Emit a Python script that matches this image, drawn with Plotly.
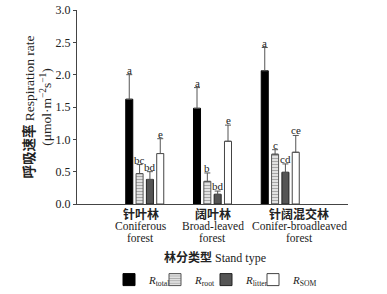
import plotly.graph_objects as go

stand_cn = ["针叶林", "阔叶林", "针阔混交林"]
stand_en1 = ["Coniferous", "Broad-leaved", "Conifer-broadleaved"]
stand_en2 = ["forest", "forest", "forest"]
series_names = ["<i>R</i><sub>total</sub>", "<i>R</i><sub>root</sub>", "<i>R</i><sub>litter</sub>", "<i>R</i><sub>SOM</sub>"]
r_total = [1.62, 1.48, 2.06]
r_root = [0.47, 0.35, 0.77]
r_litter = [0.38, 0.15, 0.49]
r_som = [0.78, 0.97, 0.80]
err_total = [0.38, 0.32, 0.36]
err_root = [0.14, 0.13, 0.07]
err_litter = [0.12, 0.05, 0.13]
err_som = [0.23, 0.25, 0.26]
letters_total = ["a", "a", "a"]
letters_root = ["bc", "b", "c"]
letters_litter = ["bd", "bd", "cd"]
letters_som = ["e", "e", "ce"]
y_ticks = [0, 0.5, 1, 1.5, 2, 2.5, 3]
y_ticktext = ["0.0", "0.5", "1.0", "1.5", "2.0", "2.5", "3.0"]

values = [r_total, r_root, r_litter, r_som]
errors = [err_total, err_root, err_litter, err_som]
letters = [letters_total, letters_root, letters_litter, letters_som]

FONT = "Liberation Serif, Noto Sans CJK SC, serif"
TXT = "#222"
fills = ["#000000", "#d9d9d9", "#555555", "#ffffff"]
lines = ["#000000", "#555555", "#222222", "#444444"]
patterns = ["", "-", "", ""]
legend_ids = ["legend", "legend2", "legend3", "legend4"]
legend_left_px = [109, 155, 206, 253]

BARGAP = 0.39
fig = go.Figure()
xs = list(range(len(stand_cn)))
pitch = (1 - BARGAP) / 4
for j in range(4):
    fig.add_trace(go.Bar(
        x=xs, y=values[j], name=series_names[j], legend=legend_ids[j],
        marker=dict(color=fills[j], line=dict(color=lines[j], width=1),
                    pattern=dict(shape=patterns[j], fgcolor="#666666", bgcolor="#e8e8e8",
                                 size=3, solidity=0.4) if patterns[j] else None),
        error_y=dict(type="data", array=errors[j], arrayminus=[0] * 3, symmetric=False,
                     color="#555555", thickness=1, width=3),
    ))
    for i in xs:
        fig.add_annotation(x=i + (j - 1.5) * pitch, y=values[j][i] + errors[j][i],
                           text=letters[j][i], showarrow=False, yanchor="bottom",
                           yshift=-3, font=dict(family=FONT, size=11, color=TXT))

# category labels (third label sits a little to the right, as in the source)
label_shift = [-4, 0, 19]
for i in xs:
    for txt, dy, sz in [("<b>" + stand_cn[i] + "</b>", -10, 12),
                        (stand_en1[i], -22, 11.5),
                        (stand_en2[i], -33.5, 11.5)]:
        fig.add_annotation(x=i, y=0, yref="paper", yanchor="middle", xanchor="center",
                           xshift=label_shift[i], yshift=dy, text=txt, showarrow=False,
                           font=dict(family=FONT, size=sz, color=TXT))

fig.add_annotation(x=0.51, xref="paper", y=-0.275, yref="paper", yanchor="middle",
                   text="<b>林分类型</b> Stand type", showarrow=False,
                   font=dict(family=FONT, size=12, color=TXT))

legend_common = dict(orientation="h", xref="container", xanchor="left", yref="container",
                     y=0.049, yanchor="middle", font=dict(family=FONT, size=11, color=TXT),
                     itemwidth=30, bgcolor="rgba(0,0,0,0)")
legends = {lid: dict(legend_common, x=px / 387) for lid, px in zip(legend_ids, legend_left_px)}

fig.update_layout(
    width=387, height=294,
    margin=dict(l=77, r=39, t=10, b=90),
    barmode="group", bargap=BARGAP, bargroupgap=0.32,
    paper_bgcolor="white", plot_bgcolor="white",
    font=dict(family=FONT, size=11, color=TXT),
    showlegend=True,
    xaxis=dict(range=[-1, 3], showticklabels=False, automargin=False,
               showline=True, linecolor="#444", linewidth=1, ticks="", showgrid=False,
               zeroline=False),
    yaxis=dict(range=[0, 3], tickvals=y_ticks, ticktext=y_ticktext, automargin=False,
               showline=True, linecolor="#444", linewidth=1, ticks="outside", ticklen=3,
               tickcolor="#444", showgrid=False, zeroline=False,
               tickfont=dict(family=FONT, size=12, color=TXT),
               title=dict(text="<b>呼吸速率</b> Respiration rate<br>(μmol·m<sup>−2</sup>s<sup>−1</sup>)",
                          font=dict(family=FONT, size=13.5, color=TXT), standoff=0)),
    **legends,
)
fig.write_html("out.html", config={"displayModeBar": False},
               post_script="document.body.style.margin='0';")
